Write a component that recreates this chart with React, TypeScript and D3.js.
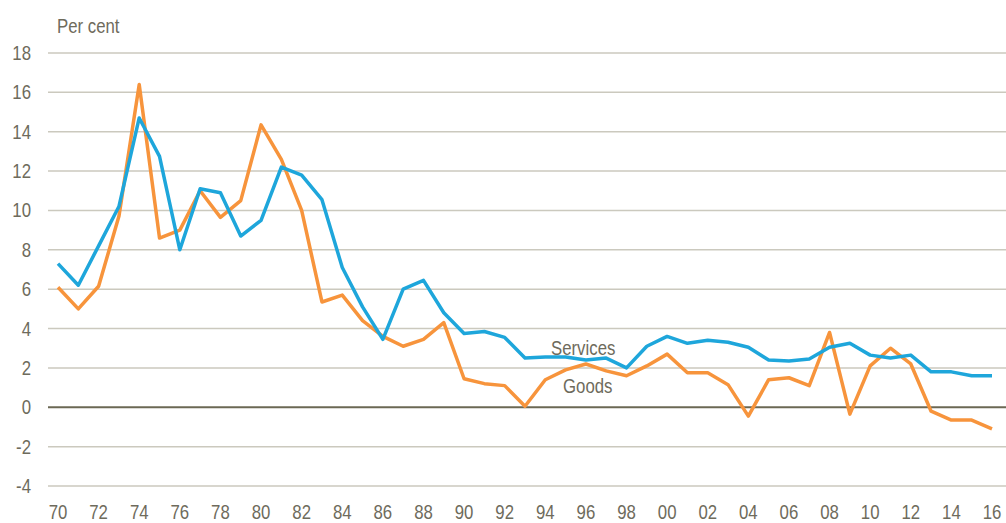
import { useEffect, useRef } from "react";
import * as d3 from "d3";

const years = d3.range(1970, 2017);

const services = [
  7.3, 6.2, 8.2, 10.2, 14.7, 12.75, 8.0, 11.1, 10.9, 8.7,
  9.5, 12.2, 11.8, 10.55, 7.1, 5.1, 3.45, 6.0, 6.45, 4.8,
  3.75, 3.85, 3.55, 2.5, 2.55, 2.55, 2.4, 2.5, 2.0, 3.1,
  3.6, 3.25, 3.4, 3.3, 3.05, 2.4, 2.35, 2.45, 3.05, 3.25,
  2.65, 2.5, 2.65, 1.8, 1.8, 1.6, 1.6,
];

const goods = [
  6.1, 5.0, 6.15, 9.7, 16.4, 8.6, 9.0, 11.0, 9.65, 10.5,
  14.35, 12.6, 10.0, 5.35, 5.7, 4.4, 3.6, 3.1, 3.45, 4.3,
  1.45, 1.2, 1.1, 0.05, 1.4, 1.9, 2.2, 1.85, 1.6, 2.1,
  2.7, 1.75, 1.75, 1.15, -0.45, 1.4, 1.5, 1.1, 3.8, -0.35,
  2.1, 3.0, 2.2, -0.2, -0.65, -0.65, -1.1,
];

const yTicks = [-4, -2, 0, 2, 4, 6, 8, 10, 12, 14, 16, 18];
const xTicks = d3.range(1970, 2017, 2);

const W = 1006;
const H = 523;
const FONT = "'Liberation Sans', Arial, sans-serif";
const TEXT = "#6e6b5c";
const SQUEEZE = 0.84; // reference uses a narrow face

function App() {
  const ref = useRef<SVGSVGElement>(null);

  useEffect(() => {
    document.body.style.margin = "0";
    const svg = d3.select(ref.current);
    svg.selectAll("*").remove();

    const x = d3.scaleLinear().domain([1970, 2016]).range([58, 992]);
    const y = d3.scaleLinear().domain([-4, 18]).range([486, 53]);

    // narrow text: draw at (px, py) and squeeze horizontally
    const label = (px: number, py: number, s: string, anchor = "start") =>
      svg.append("g")
        .attr("transform", `translate(${px},${py}) scale(${SQUEEZE},1)`)
        .append("text")
        .attr("text-anchor", anchor)
        .attr("font-family", FONT)
        .attr("font-size", 20)
        .attr("fill", TEXT)
        .text(s);

    // gridlines
    svg.append("g")
      .selectAll("line")
      .data(yTicks.filter((d) => d !== 0))
      .join("line")
      .attr("x1", 48)
      .attr("x2", W)
      .attr("y1", (d) => y(d))
      .attr("y2", (d) => y(d))
      .attr("stroke", "#cbc9be")
      .attr("stroke-width", 1.5);

    svg.append("line")
      .attr("x1", 48)
      .attr("x2", W)
      .attr("y1", y(0))
      .attr("y2", y(0))
      .attr("stroke", "#6b6854")
      .attr("stroke-width", 2);

    yTicks.forEach((d) => label(31, y(d) + 7, String(d), "end"));
    xTicks.forEach((d) => label(x(d), 519, String(d % 100).padStart(2, "0"), "middle"));
    label(57, 33, "Per cent");

    const line = d3.line<number>()
      .x((_, i) => x(years[i]))
      .y((d) => y(d));

    svg.append("path")
      .datum(goods)
      .attr("d", line)
      .attr("fill", "none")
      .attr("stroke", "#f7943c")
      .attr("stroke-width", 3.5)
      .attr("stroke-linejoin", "round");

    svg.append("path")
      .datum(services)
      .attr("d", line)
      .attr("fill", "none")
      .attr("stroke", "#1ea6db")
      .attr("stroke-width", 3.5)
      .attr("stroke-linejoin", "round");

    label(551, 355, "Services");
    label(563, 393, "Goods");
  }, []);

  return <svg ref={ref} width={W} height={H} style={{ display: "block", background: "#fff" }} />;
}

export default App;
